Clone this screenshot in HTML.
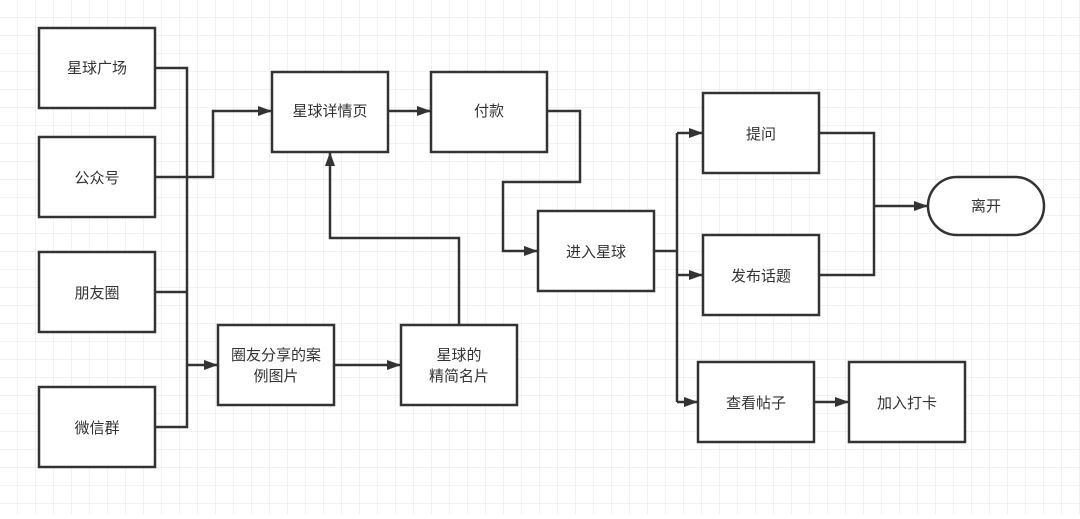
<!DOCTYPE html>
<html><head><meta charset="utf-8"><style>
body{margin:0;width:1080px;height:514px;overflow:hidden;background:#fff;}
svg text{font-family:"Liberation Sans","Noto Sans CJK SC",sans-serif;font-size:15px;fill:#333;text-anchor:middle;dominant-baseline:middle;}
</style></head><body>
<svg width="1080" height="514" xmlns="http://www.w3.org/2000/svg">
<defs>
<pattern id="g" width="18" height="18" patternUnits="userSpaceOnUse">
<path d="M18 0V18M0 18H18" stroke="#e4e4e4" stroke-width="1" fill="none"/>
</pattern>
<marker id="a" markerWidth="14" markerHeight="10" refX="13" refY="5" orient="auto" markerUnits="userSpaceOnUse">
<path d="M0,0 L14,5 L0,10 Z" fill="#333"/>
</marker>
</defs>
<rect width="1080" height="514" fill="url(#g)"/>
<g fill="#fff" stroke="#333" stroke-width="2.5">
<rect x="39" y="28" width="116" height="80"/>
<rect x="39" y="137" width="116" height="80"/>
<rect x="39" y="252" width="116" height="80"/>
<rect x="39" y="387" width="116" height="80"/>
<rect x="272" y="72" width="116" height="80"/>
<rect x="431" y="72" width="116" height="80"/>
<rect x="538" y="211" width="116" height="80"/>
<rect x="703" y="93" width="116" height="80"/>
<rect x="703" y="235" width="116" height="80"/>
<rect x="928" y="177" width="116" height="58" rx="29"/>
<rect x="218" y="325" width="116" height="80"/>
<rect x="401" y="325" width="116" height="80"/>
<rect x="698" y="362" width="116" height="80"/>
<rect x="849" y="362" width="116" height="80"/>
</g>
<g fill="none" stroke="#333" stroke-width="2.5">
<path d="M155 68H187V427H155"/>
<path d="M155 292H187"/>
<path d="M187 365H217" marker-end="url(#a)"/>
<path d="M155 177H213V111H271" marker-end="url(#a)"/>
<path d="M459 325V238H330V153" marker-end="url(#a)"/>
<path d="M334 365H400" marker-end="url(#a)"/>
<path d="M388 111H430" marker-end="url(#a)"/>
<path d="M547 111H580V182H503V251H537" marker-end="url(#a)"/>
<path d="M654 251H677"/>
<path d="M677 133V402"/>
<path d="M677 133H702" marker-end="url(#a)"/>
<path d="M677 275H702" marker-end="url(#a)"/>
<path d="M677 402H697" marker-end="url(#a)"/>
<path d="M814 402H848" marker-end="url(#a)"/>
<path d="M819 133H874V275H819"/>
<path d="M874 206H927" marker-end="url(#a)"/>
</g>
<text x="97" y="69">星球广场</text>
<text x="97" y="179">公众号</text>
<text x="97" y="294">朋友圈</text>
<text x="97" y="429">微信群</text>
<text x="330" y="112">星球详情页</text>
<text x="489" y="112">付款</text>
<text x="596" y="253">进入星球</text>
<text x="761" y="135">提问</text>
<text x="761" y="277">发布话题</text>
<text x="986" y="207">离开</text>
<text x="276" y="356">圈友分享的案</text>
<text x="276" y="377">例图片</text>
<text x="459" y="356">星球的</text>
<text x="459" y="377">精简名片</text>
<text x="756" y="404">查看帖子</text>
<text x="907" y="404">加入打卡</text>
</svg>
</body></html>
